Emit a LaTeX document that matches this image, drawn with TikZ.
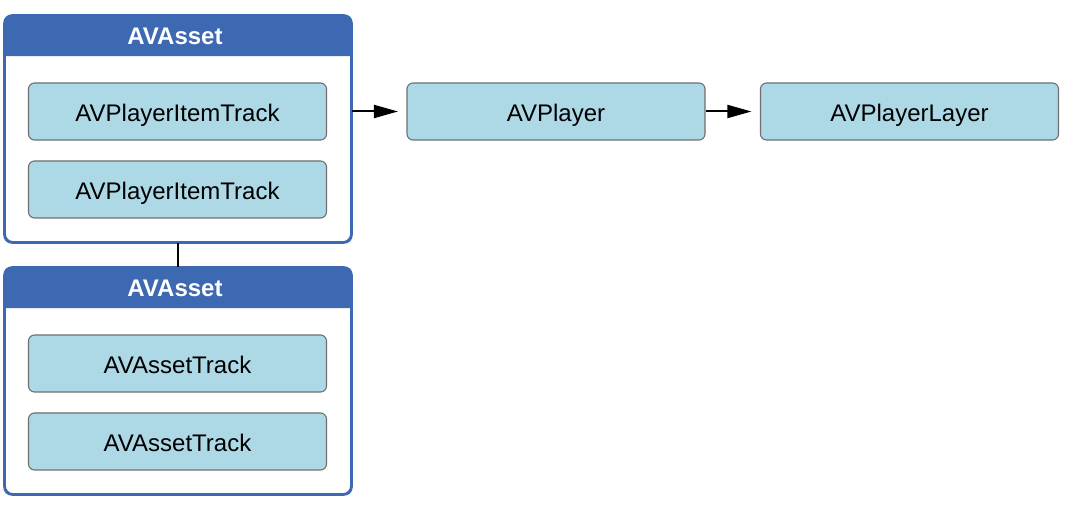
\documentclass[tikz,border=0pt]{standalone}
\usepackage{fontspec}
\setmainfont{Liberation Sans}
\usetikzlibrary{arrows.meta,calc}
\definecolor{hdrblue}{HTML}{3D68B2}
\definecolor{trackfill}{HTML}{ADD8E6}
\definecolor{trackline}{HTML}{6F6F6F}
\begin{document}
\begin{tikzpicture}[x=1pt,y=-1pt,
  track/.style={draw=trackline, line width=1.1pt, fill=trackfill, rounded corners=6pt,
    minimum width=298pt, minimum height=57pt, inner sep=0pt,
    text height=20.2pt, text depth=0pt,
    font=\fontsize{24}{28}\selectfont},
  frame/.style={draw=hdrblue, fill=white, line width=1.8pt, rounded corners=8pt,
    minimum width=346pt, minimum height=226pt, inner sep=0pt},
  hdrtext/.style={text=white, inner sep=0pt, text height=17.2pt, text depth=0pt,
    font=\fontsize{24}{28}\selectfont\bfseries},
  link/.style={line width=2pt, -{Triangle[length=24pt,width=13pt]}, shorten >=8.5pt}]

\useasboundingbox (0,0) rectangle (1080,510);

% containers
\node[frame] (a1) at (178,129) {};
\node[frame] (a2) at (178,381) {};

% header bands and borders
\foreach \c/\n in {a1/h1, a2/h2}{
  \fill[hdrblue] ($(\c.north west)+(0,41)$) [rounded corners=8pt] -- (\c.north west)
    -- (\c.north east) [sharp corners] -- ($(\c.north east)+(0,41)$) -- cycle;
  \draw[hdrblue, line width=1.8pt, rounded corners=8pt] (\c.north west) rectangle (\c.south east);
  \node[hdrtext] (\n) at ($(\c.north)+(-3,21)$) {AVAsset};
}

% tracks
\node[track] (t1) at (177.5,111.5) {AVPlayerItemTrack};
\node[track] (t2) at (177.5,189.5) {AVPlayerItemTrack};
\node[track] (t3) at (177.5,363.5) {AVAssetTrack};
\node[track] (t4) at (177.5,441.5) {AVAssetTrack};

% player chain
\node[track] (p)  at (556,111.5) {AVPlayer};
\node[track] (pl) at (909.5,111.5) {AVPlayerLayer};

\draw[line width=1.8pt] (a1.south) -- (a2.north);
\draw[link] (a1.east |- p.west) -- (p.west);
\draw[link] (p.east) -- (pl.west);
\end{tikzpicture}
\end{document}
